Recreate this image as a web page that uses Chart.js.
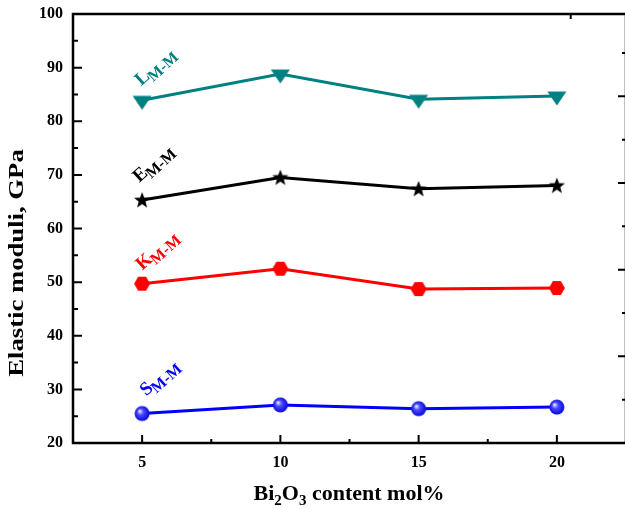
<!DOCTYPE html>
<html>
<head>
<meta charset="utf-8">
<script src="https://cdn.jsdelivr.net/npm/chart.js@4.4.1/dist/chart.umd.min.js"></script>
<style>
  html, body { margin: 0; padding: 0; background: #fff; overflow: hidden; width: 625px; height: 509px; }
  canvas { display: block; }
</style>
</head>
<body>
<canvas id="modChart" width="632" height="509"></canvas>
<script>
// composition (mol% Bi2O3)
const contents = [5, 10, 15, 20];
const lModulus = [83.9, 88.8, 84.1, 84.7];
const eModulus = [65.3, 69.5, 67.4, 68.0];
const kModulus = [49.7, 52.5, 48.7, 48.9];
const sModulus = [25.5, 27.1, 26.4, 26.7];

const xTicks = [5, 10, 15, 20];
const yTicks = [20, 30, 40, 50, 60, 70, 80, 90, 100];
const rightTicks = [1, 2, 3, 4, 5, 6, 7, 8, 9];
const topTicks = [20.5];

const serif = '"Liberation Serif", "Times New Roman", serif';

function makeMarker(size, draw) {
    const c = document.createElement('canvas');
    c.width = size; c.height = size;
    draw(c.getContext('2d'), size / 2);
    return c;
}

const triMarker = makeMarker(22, (g, m) => {
    g.fillStyle = '#008080';
    g.beginPath();
    g.moveTo(m - 9.5, m - 4.5);
    g.lineTo(m + 9.5, m - 4.5);
    g.lineTo(m, m + 9.5);
    g.closePath();
    g.fill();
});

const starMarker = makeMarker(20, (g, m) => {
    g.fillStyle = '#000';
    g.beginPath();
    for (let i = 0; i < 10; i++) {
        const r = i % 2 ? 3.6 : 8.5;
        const a = -Math.PI / 2 + i * Math.PI / 5;
        g.lineTo(m + r * Math.cos(a), m + 0.5 + r * Math.sin(a));
    }
    g.closePath();
    g.fill();
});

const hexMarker = makeMarker(20, (g, m) => {
    g.fillStyle = '#ff0000';
    g.beginPath();
    for (let i = 0; i < 6; i++) {
        const a = i * Math.PI / 3;
        g.lineTo(m + 8 * Math.cos(a), m + 8 * Math.sin(a));
    }
    g.closePath();
    g.fill();
});

const ballMarker = makeMarker(20, (g, m) => {
    const grad = g.createRadialGradient(m - 2.5, m - 2.5, 0.5, m, m, 8);
    grad.addColorStop(0, '#e8e8ff');
    grad.addColorStop(0.35, '#4a4aff');
    grad.addColorStop(1, '#0000d8');
    g.fillStyle = grad;
    g.beginPath();
    g.arc(m, m, 7.5, 0, Math.PI * 2);
    g.fill();
});

function pts(values) {
    return contents.map((c, i) => ({ x: c, y: values[i] }));
}

const seriesLabels = [
    { main: 'L', sub: 'M-M', color: '#008080', dx: -1, dy: -14 },
    { main: 'E', sub: 'M-M', color: '#000000', dx: -3, dy: -17 },
    { main: 'K', sub: 'M-M', color: '#ff0000', dx: 0, dy: -13 },
    { main: 'S', sub: 'M-M', color: '#0000ff', dx: 4, dy: -17 }
];

const framePlugin = {
    id: 'frame',
    afterDraw(chart) {
        const { ctx, chartArea: a, scales } = chart;
        ctx.save();
        ctx.strokeStyle = '#000';
        ctx.lineWidth = 2.5;
        ctx.strokeRect(a.left, a.top, a.right - a.left, a.bottom - a.top);

        ctx.lineWidth = 2;
        ctx.beginPath();
        // left axis ticks (inward)
        yTicks.forEach(v => {
            const y = scales.y.getPixelForValue(v);
            ctx.moveTo(a.left, y); ctx.lineTo(a.left + 9, y);
            if (v < 100) {
                const ym = scales.y.getPixelForValue(v + 5);
                ctx.moveTo(a.left, ym); ctx.lineTo(a.left + 5, ym);
            }
        });
        // bottom ticks
        xTicks.forEach(v => {
            const x = scales.x.getPixelForValue(v);
            ctx.moveTo(x, a.bottom); ctx.lineTo(x, a.bottom - 8);
            const xm = scales.x.getPixelForValue(v + 2.5);
            if (v < 20) { ctx.moveTo(xm, a.bottom); ctx.lineTo(xm, a.bottom - 4); }
        });
        topTicks.forEach(v => {
            const x = scales.x.getPixelForValue(v);
            ctx.moveTo(x, a.top); ctx.lineTo(x, a.top + 5);
        });
        // right axis ticks
        rightTicks.forEach(v => {
            const y = scales.y2.getPixelForValue(v);
            const len = v % 2 === 0 ? 8 : 4;
            ctx.moveTo(a.right, y); ctx.lineTo(a.right - len, y);
        });
        ctx.stroke();

        // series labels, rotated
        chart.data.datasets.forEach((ds, i) => {
            const p = chart.getDatasetMeta(i).data[0];
            const lab = seriesLabels[i];
            ctx.save();
            ctx.translate(p.x + lab.dx, p.y + lab.dy);
            ctx.rotate(-42 * Math.PI / 180);
            ctx.fillStyle = lab.color;
            ctx.textBaseline = 'alphabetic';
            ctx.font = 'bold 19px ' + serif;
            ctx.fillText(lab.main, 0, 0);
            const w = ctx.measureText(lab.main).width;
            ctx.font = 'bold 16px ' + serif;
            ctx.fillText(lab.sub, w - 1, 5);
            ctx.restore();
        });

        // axis titles
        ctx.fillStyle = '#000';
        ctx.save();
        ctx.translate(18, 263);
        ctx.rotate(-Math.PI / 2);
        ctx.scale(1.27, 1);
        ctx.textAlign = 'center';
        ctx.textBaseline = 'middle';
        ctx.font = 'bold 21px ' + serif;
        ctx.fillText('Elastic moduli, GPa', 0, 0);
        ctx.restore();

        const parts = [
            { t: 'Bi', f: 'bold 22px ', dy: 0 },
            { t: '2', f: 'bold 15px ', dy: 5 },
            { t: 'O', f: 'bold 22px ', dy: 0 },
            { t: '3', f: 'bold 15px ', dy: 5 },
            { t: ' content mol%', f: 'bold 22px ', dy: 0 }
        ];
        let total = 0;
        parts.forEach(pt => { ctx.font = pt.f + serif; total += ctx.measureText(pt.t).width; });
        let x = 349 - total / 2;
        ctx.textBaseline = 'alphabetic';
        parts.forEach(pt => {
            ctx.font = pt.f + serif;
            ctx.fillText(pt.t, x, 500 + pt.dy);
            x += ctx.measureText(pt.t).width;
        });
        ctx.restore();
    }
};

function lineSet(values, color, marker) {
    return {
        data: pts(values),
        borderColor: color,
        backgroundColor: color,
        borderWidth: 3,
        pointStyle: marker,
        pointRadius: 9,
        showLine: true,
        tension: 0
    };
}

function noEdgePad(s) {
    s.paddingTop = 0; s.paddingBottom = 0;
    s.paddingLeft = 0; s.paddingRight = 0;
}

new Chart(document.getElementById('modChart').getContext('2d'), {
    type: 'scatter',
    data: {
        datasets: [
            lineSet(lModulus, '#008080', triMarker),
            lineSet(eModulus, '#000000', starMarker),
            lineSet(kModulus, '#ff0000', hexMarker),
            lineSet(sModulus, '#0000ff', ballMarker)
        ]
    },
    options: {
        responsive: false,
        animation: false,
        layout: { autoPadding: false, padding: { top: 14, right: 6, left: 0, bottom: 0 } },
        plugins: { legend: { display: false }, tooltip: { enabled: false } },
        scales: {
            x: {
                type: 'linear',
                min: 2.5,
                max: 22.5,
                afterBuildTicks: s => { s.ticks = xTicks.map(v => ({ value: v })); },
                afterFit: s => { s.height = 66; noEdgePad(s); },
                grid: { display: false, drawTicks: false },
                border: { display: false },
                ticks: { color: '#000', padding: 10, font: { family: serif, size: 16, weight: 'bold' } }
            },
            y: {
                min: 20,
                max: 100,
                afterBuildTicks: s => { s.ticks = yTicks.map(v => ({ value: v })); },
                afterFit: s => { s.width = 73; noEdgePad(s); },
                grid: { display: false, drawTicks: false },
                border: { display: false },
                ticks: { color: '#000', padding: 10, font: { family: serif, size: 16, weight: 'bold' } }
            },
            y2: {
                display: false,
                position: 'right',
                min: 0,
                max: 9.9
            }
        }
    },
    plugins: [framePlugin]
});
</script>
</body>
</html>
